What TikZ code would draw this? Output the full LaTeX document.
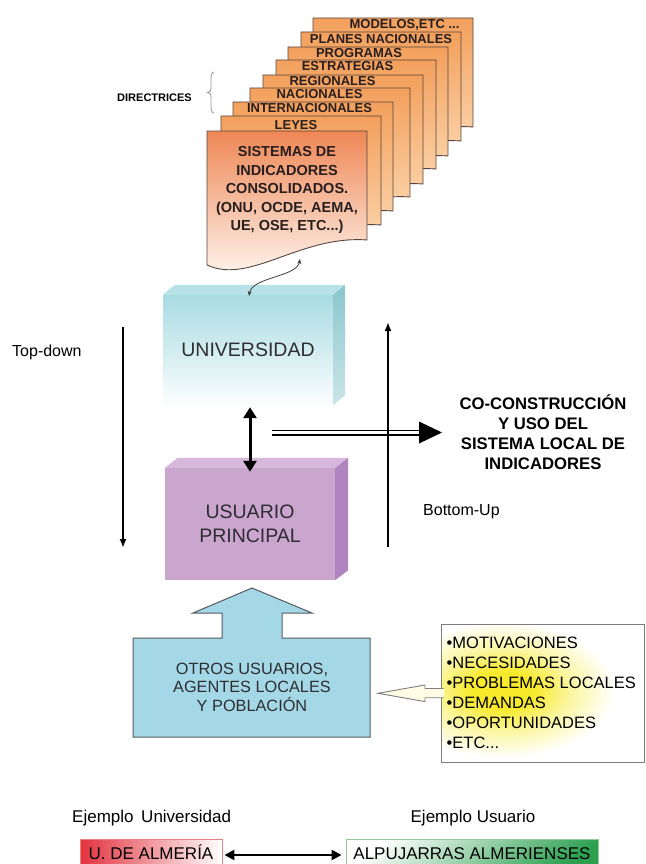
\documentclass[tikz,border=0pt]{standalone}
\usepackage{fontspec}
\setmainfont{Liberation Sans}
\usetikzlibrary{arrows.meta,calc}
\definecolor{pgTop}{RGB}{243,160,92}
\definecolor{pgBot}{RGB}{253,224,190}
\definecolor{frTop}{RGB}{238,135,85}
\definecolor{frBot}{RGB}{255,251,247}
\definecolor{pgLine}{RGB}{85,70,65}
\definecolor{stackTxt}{RGB}{40,30,30}
\definecolor{uniTop}{RGB}{168,219,226}
\definecolor{uniBot}{RGB}{252,254,254}
\definecolor{uniSide}{RGB}{138,198,205}
\definecolor{uniTopFace}{RGB}{182,226,232}
\definecolor{usuFront}{RGB}{202,165,206}
\definecolor{usuSide}{RGB}{176,132,190}
\definecolor{usuTopFace}{RGB}{214,184,220}
\definecolor{otrosFill}{RGB}{164,216,230}
\definecolor{otrosLine}{RGB}{85,90,95}
\definecolor{txtDark}{RGB}{45,45,50}
\definecolor{glow}{RGB}{247,234,45}
\definecolor{glowmid}{RGB}{251,246,160}
\definecolor{lstLine}{RGB}{125,125,125}
\definecolor{callFill}{RGB}{255,253,228}
\definecolor{almRed}{RGB}{226,50,62}
\definecolor{almBorder}{RGB}{232,130,130}
\definecolor{alpGreen}{RGB}{45,160,80}
\definecolor{alpBorder}{RGB}{150,200,150}
\definecolor{braceCol}{RGB}{150,150,150}
\definecolor{curveCol}{RGB}{60,60,60}
\pgfdeclareradialshading{glowshade}{\pgfpoint{0bp}{0bp}}{color(0bp)=(glow); color(7bp)=(glow); color(15bp)=(glowmid); color(25bp)=(white); color(50bp)=(white)}
\begin{document}
\begin{tikzpicture}[x=1pt,y=-1pt,
  pageback/.style={draw=pgLine, line width=0.9pt, top color=pgTop, bottom color=pgBot},
  pagefront/.style={draw=pgLine, line width=0.9pt, top color=frTop, bottom color=frBot},
  stacklbl/.style={font=\fontsize{13}{13}\selectfont\bfseries, text=stackTxt, inner sep=0pt},
  boxtxt/.style={font=\fontsize{19.5}{24}\selectfont, text=txtDark, align=center, inner sep=0pt},
  lbl/.style={font=\fontsize{16}{16}\selectfont, text=black, inner sep=0pt},
  lbl17/.style={font=\fontsize{17}{17}\selectfont, text=black, inner sep=0pt},
  captxt/.style={lbl17, text height=12pt, text depth=0pt},
  vline/.style={line width=2pt, -{Latex[length=9pt,width=7pt]}},
  dblv/.style={line width=3pt, {Triangle[length=11pt,width=13pt]}-{Triangle[length=11pt,width=13pt]}},
  dblh/.style={line width=2.6pt, {Triangle[length=10pt,width=10pt]}-{Triangle[length=10pt,width=10pt]}},
  curv/.style={draw=curveCol, line width=0.8pt, {Stealth[length=5pt,width=4pt]}-{Stealth[length=5pt,width=4pt]}}
]
\path[use as bounding box, fill=white] (0,0) rectangle (645,864);

% ---- stack of documents
\foreach \lx/\ty in {313/18,301/32,288/47,276/60,263/75,250/88,233/102,221/116}{
  \begin{scope}[shift={(\lx,\ty)}]
    \path[pageback] (0,0) -- (160,0) -- (160,109) .. controls (93,104) and (43,154) .. (0,134) -- cycle;
  \end{scope}
}
\begin{scope}[shift={(207,131)}]
  \path[pagefront] (0,0) -- (160,0) -- (160,109) .. controls (93,104) and (43,154) .. (0,134) -- cycle;
\end{scope}
\node[stacklbl] (lmod) at (404.5,25) {MODELOS,ETC ...};
\node[stacklbl] (lpla) at (381,39) {PLANES NACIONALES};
\node[stacklbl] (lpro) at (359,53) {PROGRAMAS};
\node[stacklbl] (lest) at (347.5,66) {ESTRATEGIAS};
\node[stacklbl] (lreg) at (332.5,81) {REGIONALES};
\node[stacklbl] (lnac) at (319.5,94) {NACIONALES};
\node[stacklbl] (lint) at (309.5,108) {INTERNACIONALES};
\node[stacklbl] (lley) at (296,125) {LEYES};
\node[font=\fontsize{14.5}{18.5}\selectfont\bfseries, text=stackTxt, align=center, inner sep=0pt] (sis) at (287,190)
  {SISTEMAS DE\\INDICADORES\\CONSOLIDADOS.\\(ONU, OCDE, AEMA,\\UE, OSE, ETC...)};

% ---- directrices
\node[font=\fontsize{11}{11}\selectfont\bfseries, inner sep=0pt, anchor=east] (dir) at (192,98) {DIRECTRICES};
\draw[braceCol, line width=0.8pt] (214,72) .. controls (211,72) and (211,76) .. (211,82) -- (211,87)
  .. controls (211,91) and (210,92.5) .. (207.5,92.5) .. controls (210,92.5) and (211,94) .. (211,98)
  -- (211,103) .. controls (211,109) and (211,113) .. (214,113);

% ---- UNIVERSIDAD box
\node[top color=uniTop, bottom color=uniBot, minimum width=170, minimum height=110, boxtxt] (uni) at (248,350) {UNIVERSIDAD};
\path[fill=uniTopFace] (uni.north west) -- ++(12,-10) -- ($(uni.north east)+(12,-10)$) -- (uni.north east) -- cycle;
\path[top color=uniSide, bottom color=uniSide!45!white] (uni.north east) -- ++(12,-10) -- ($(uni.south east)+(12,-10)$) -- (uni.south east) -- cycle;

% ---- curved arrow
\coordinate (cA) at (249,296);
\coordinate (cB) at (300,259);
\draw[curv] (cA) .. controls (252,277) and (297,277) .. (cB);

% ---- USUARIO box
\node[fill=usuFront, minimum width=170, minimum height=112, boxtxt] (usu) at (250,524) {USUARIO\\PRINCIPAL};
\path[fill=usuTopFace] (usu.north west) -- ++(13,-10) -- ($(usu.north east)+(13,-10)$) -- (usu.north east) -- cycle;
\path[fill=usuSide] (usu.north east) -- ++(13,-10) -- ($(usu.south east)+(13,-10)$) -- (usu.south east) -- cycle;

\draw[dblv] ($(uni.south)+(2,2)$) -- ($(usu.north)+(0,4)$);

% ---- horizontal double arrow
\coordinate (hs) at (272,432.5);
\coordinate (hm) at (419,432.5);
\coordinate (ht) at (442,432.5);
\draw[line width=1.5pt, double=white, double distance=3pt] (hs) -- (hm);
\fill (ht) -- ($(hm)+(0,-11)$) -- ($(hm)+(0,11)$) -- cycle;

% ---- vertical arrows
\coordinate (td1) at (123,327);
\coordinate (td2) at (123,548);
\draw[vline] (td1) -- (td2);
\coordinate (bu1) at (388,547);
\coordinate (bu2) at (388,322);
\draw[vline] (bu1) -- (bu2);

\node[lbl, anchor=west] (tdl) at (12,352) {Top-down};
\node[lbl, anchor=west] (bul) at (423,512) {Bottom-Up};
\node[font=\fontsize{16.7}{20}\selectfont\bfseries, align=center, inner sep=0pt] (coc) at (543,432)
  {CO-CONSTRUCCIÓN\\Y USO DEL\\SISTEMA LOCAL DE\\INDICADORES};

% ---- big up arrow
\path[fill=otrosFill, draw=otrosLine, line width=1pt] (133,638) -- (222,638) -- (222,613) -- (193,613) -- (252,588)
  -- (312,613) -- (282,613) -- (282,638) -- (370,638) -- (370,737) -- (133,737) -- cycle;
\node[font=\fontsize{16.3}{18.5}\selectfont, text=txtDark, align=center, inner sep=0pt] (otros) at (252,687)
  {OTROS USUARIOS,\\AGENTES LOCALES\\Y POBLACIÓN};

% ---- list box
\node[fill=white, minimum width=202, minimum height=137] (lst) at (543,693.5) {};
\begin{scope}
  \clip (lst.north west) rectangle (lst.south east);
  \shade[shading=glowshade] (390,622) rectangle (615,758);
\end{scope}
\draw[lstLine, line width=0.9pt] (lst.north west) rectangle (lst.south east);
\node[font=\fontsize{16.5}{20}\selectfont, align=left, inner sep=0pt, anchor=west] (items) at (446.5,693)
  {•MOTIVACIONES\\•NECESIDADES\\•PROBLEMAS LOCALES\\•DEMANDAS\\•OPORTUNIDADES\\•ETC...};
\coordinate (ctip) at (378,693.3);
\path[fill=callFill] (ctip) -- (425,685) -- (425,688.5) -- (444,688.5) -- (444,697.7) -- (425,697.7) -- (425,701.6) -- cycle;
\draw[lstLine, line width=0.9pt] (443.5,688.5) -- (425,688.5) -- (425,685) -- (ctip) -- (425,701.6) -- (425,697.7) -- (443.5,697.7);

% ---- bottom examples
\node[lbl17, anchor=west] (eu) at (72,818) {Ejemplo\hspace{0.45em}Universidad};
\node[lbl17] (eus) at (473,818) {Ejemplo Usuario};
\node[draw=almBorder, line width=0.9pt, left color=almRed, right color=white, minimum width=142, minimum height=32] (alm) at (151,855) {};
\node[captxt] (almt) at (151,853) {U. DE ALMERÍA};
\node[draw=alpBorder, line width=0.9pt, top color=white, bottom color=alpGreen, shading angle=35, minimum width=252, minimum height=32] (alp) at (472,855) {};
\node[captxt] (alpt) at (472,853) {ALPUJARRAS ALMERIENSES};
\draw[dblh, shorten <=2pt, shorten >=4pt] (alm) -- (alp);
\end{tikzpicture}
\end{document}
